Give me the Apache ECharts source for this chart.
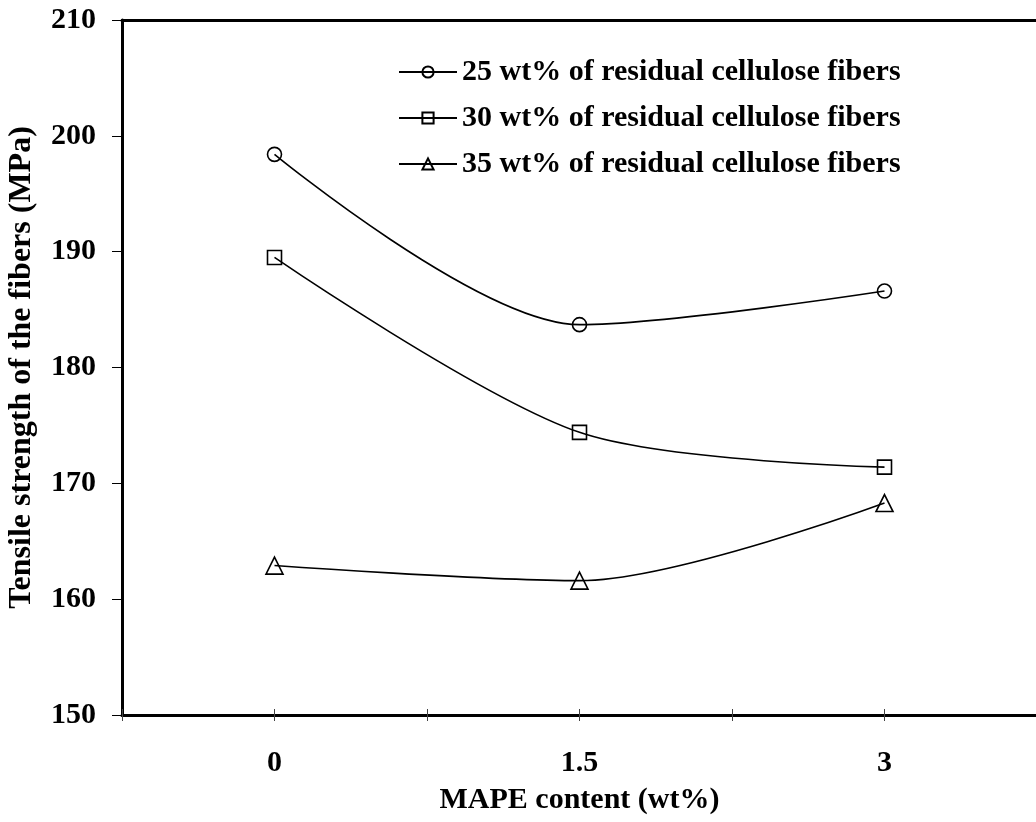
<!DOCTYPE html>
<html>
<head>
<meta charset="utf-8">
<script src="https://cdn.jsdelivr.net/npm/echarts@6/dist/echarts.min.js"></script>
<style>
html,body{margin:0;padding:0;background:#fff;}
#chart{width:1036px;height:822px;}
</style>
</head>
<body>
<div id="chart"></div>
<script>
const xValues = [0, 1.5, 3];
const xTickLabels = ['0', '1.5', '3'];
const seriesNames = [
  '25 wt% of residual cellulose fibers',
  '30 wt% of residual cellulose fibers',
  '35 wt% of residual cellulose fibers'
];
const s25 = [198.4, 183.7, 186.6];
const s30 = [189.5, 174.4, 171.4];
const s35 = [162.9, 161.6, 168.3];
const symbols = ['circle', 'rect', 'triangle'];
const xTitle = 'MAPE content (wt%)';
const yTitle = 'Tensile strength of the fibers (MPa)';

const FONT = '"Liberation Serif", "Times New Roman", serif';
const FS = 30;
const chart = echarts.init(document.getElementById('chart'));

function mk(name, vals, sym) {
  return {
    name: name, type: 'line', smooth: 0.3,
    data: xValues.map((x, i) => [x, vals[i]]),
    symbol: sym, symbolSize: sym === 'triangle' ? 17 : 14,
    lineStyle: {color: '#000', width: 1.6},
    itemStyle: {color: 'rgba(255,255,255,0)', borderColor: '#000', borderWidth: 1.6},
    emphasis: {disabled: true}
  };
}

const baseX = {
  type: 'value', min: -0.75, max: 3.75, interval: 0.75,
  splitLine: {show: false}
};

chart.setOption({
  animation: false,
  backgroundColor: '#fff',
  textStyle: {fontFamily: FONT},
  grid: {left: 122, top: 20, width: 915, height: 695, containLabel: false, outerBoundsMode: 'none'},
  legend: {
    orient: 'vertical', left: 393, top: 52, itemGap: 16,
    itemWidth: 58, itemHeight: 14,
    textStyle: {fontFamily: FONT, fontWeight: 'bold', fontSize: FS, color: '#000'},
    data: seriesNames
  },
  xAxis: [
    Object.assign({}, baseX, {
      position: 'bottom',
      name: xTitle, nameLocation: 'middle', nameGap: 70,
      nameTextStyle: {fontFamily: FONT, fontWeight: 'bold', fontSize: FS, color: '#000'},
      axisLine: {show: true, onZero: false, lineStyle: {color: '#000', width: 3}},
      axisTick: {show: true, inside: false, length: 6, lineStyle: {color: '#444', width: 1}},
      axisLabel: {
        margin: 33, fontFamily: FONT, fontWeight: 'bold', fontSize: FS, color: '#000',
        formatter: function (v) {
          const i = xValues.indexOf(Math.round(v * 100) / 100);
          return i >= 0 ? xTickLabels[i] : '';
        }
      }
    }),
    Object.assign({}, baseX, {
      position: 'bottom',
      axisLine: {show: false, onZero: false},
      axisTick: {show: true, inside: true, length: 6, lineStyle: {color: '#444', width: 1}},
      axisLabel: {show: false}
    }),
    Object.assign({}, baseX, {
      position: 'top',
      axisLine: {show: true, onZero: false, lineStyle: {color: '#000', width: 3}},
      axisTick: {show: false},
      axisLabel: {show: false}
    })
  ],
  yAxis: {
    type: 'value', min: 150, max: 210, interval: 10,
    name: yTitle, nameLocation: 'middle', nameGap: 84, nameRotate: 90,
    nameTextStyle: {fontFamily: FONT, fontWeight: 'bold', fontSize: 32, color: '#000'},
    axisLine: {show: true, onZero: false, lineStyle: {color: '#000', width: 3}},
    axisTick: {show: true, inside: false, length: 10, lineStyle: {color: '#000', width: 1}},
    axisLabel: {margin: 26, fontFamily: FONT, fontWeight: 'bold', fontSize: FS, color: '#000'},
    splitLine: {show: false}
  },
  series: [mk(seriesNames[0], s25, symbols[0]), mk(seriesNames[1], s30, symbols[1]), mk(seriesNames[2], s35, symbols[2])]
});
</script>
</body>
</html>
